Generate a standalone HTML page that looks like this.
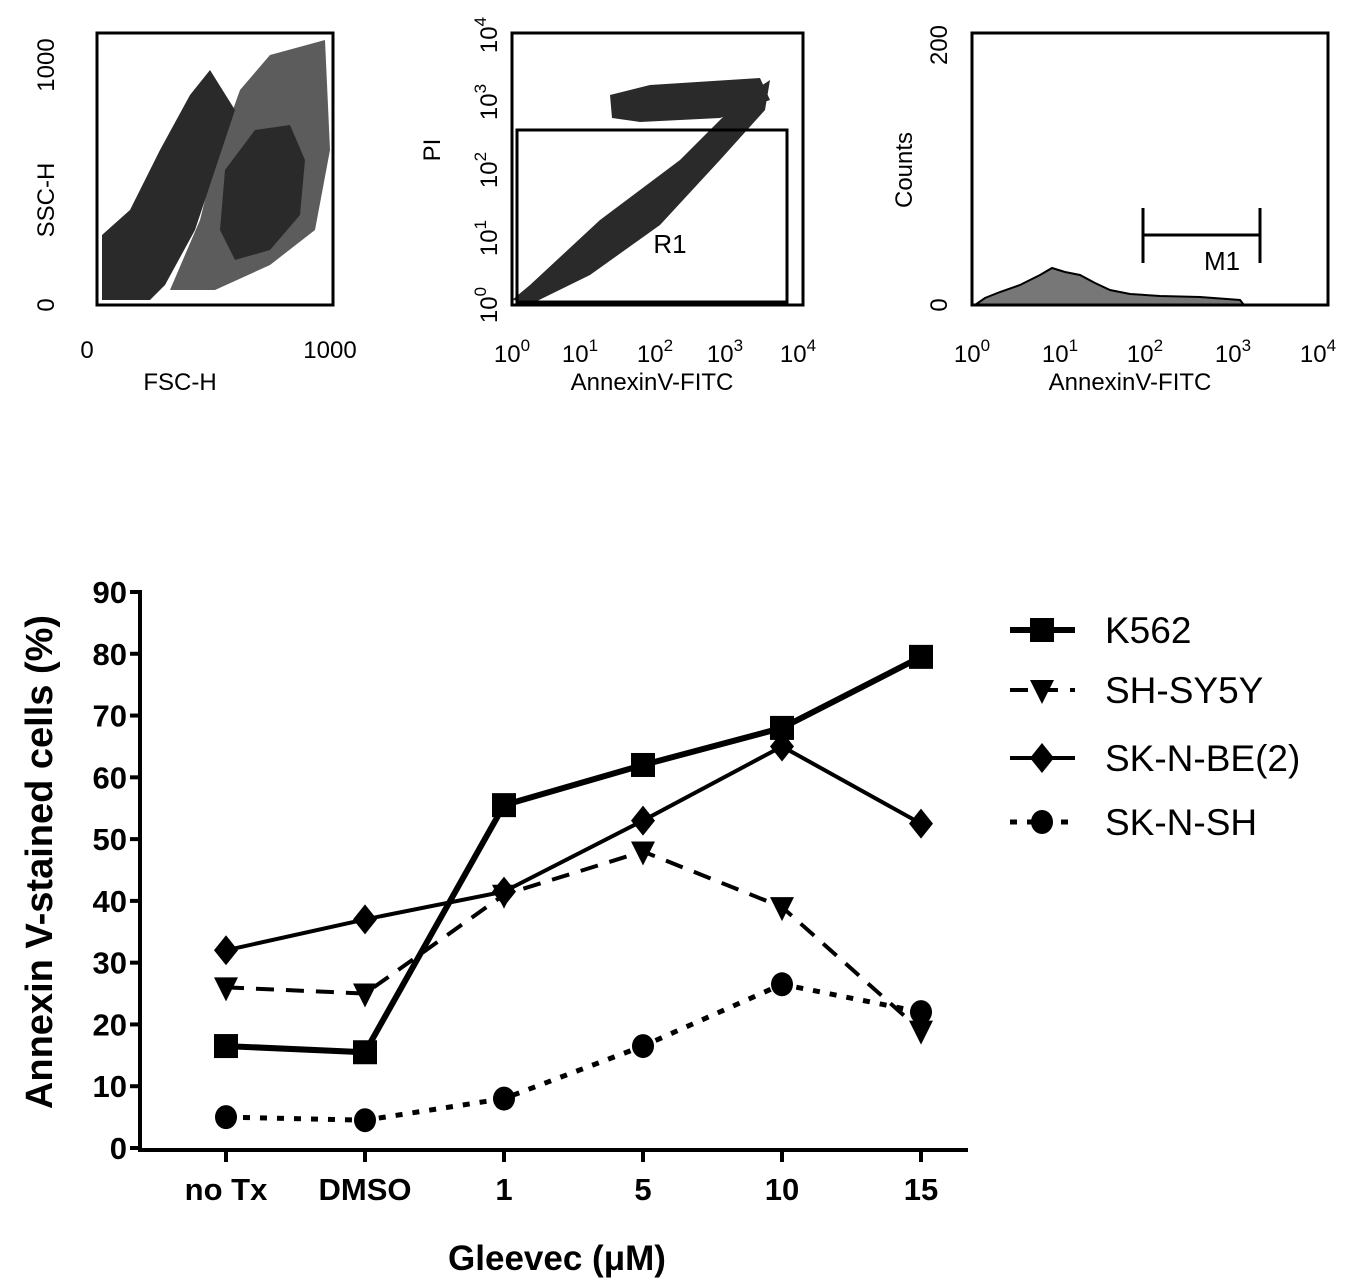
<!DOCTYPE html>
<html><head><meta charset="utf-8"><style>
body{margin:0;background:#fff;width:1350px;height:1283px;overflow:hidden;font-family:"Liberation Sans",sans-serif}
svg text{font-family:"Liberation Sans",sans-serif}
</style></head><body>
<svg width="1350" height="1283" viewBox="0 0 1350 1283">
<!-- Panel 1 -->
<g>
<polygon points="170,290 200,220 215,160 240,90 270,55 325,40 330,150 315,230 270,265 215,290" fill="#333" opacity="0.8"/>
<polygon points="102,300 102,235 130,210 160,150 190,95 210,70 235,110 215,170 195,230 165,285 150,300" fill="#2a2a2a"/>
<polygon points="220,230 225,170 255,130 290,125 305,160 300,215 270,250 235,260" fill="#2a2a2a"/>
<rect x="97" y="33" width="236" height="272" fill="none" stroke="#000" stroke-width="3"/>
<text x="330" y="358" font-size="24" text-anchor="middle">1000</text>
<text x="87" y="358" font-size="24" text-anchor="middle">0</text>
<text x="180" y="390" font-size="24" text-anchor="middle">FSC-H</text>
<text transform="translate(54,305) rotate(-90)" font-size="24" text-anchor="middle">0</text>
<text transform="translate(54,65) rotate(-90)" font-size="24" text-anchor="middle">1000</text>
<text transform="translate(54,200) rotate(-90)" font-size="24" text-anchor="middle">SSC-H</text>
</g>
<!-- Panel 2 -->
<g>
<polygon points="512,300 530,285 600,220 680,160 740,100 770,80 765,110 720,160 660,225 590,275 535,302" fill="#2a2a2a"/>
<polygon points="610,95 650,85 760,78 770,100 720,118 640,122 612,118" fill="#2a2a2a"/>
<rect x="512" y="33" width="291" height="272" fill="none" stroke="#000" stroke-width="3"/>
<rect x="517" y="130" width="270" height="172" fill="none" stroke="#000" stroke-width="3"/>
<text x="670" y="253" font-size="26" text-anchor="middle">R1</text>
<text x="512" y="362" font-size="24" text-anchor="middle">10<tspan dy="-11" font-size="17">0</tspan></text>
<text x="580" y="362" font-size="24" text-anchor="middle">10<tspan dy="-11" font-size="17">1</tspan></text>
<text x="655" y="362" font-size="24" text-anchor="middle">10<tspan dy="-11" font-size="17">2</tspan></text>
<text x="725" y="362" font-size="24" text-anchor="middle">10<tspan dy="-11" font-size="17">3</tspan></text>
<text x="798" y="362" font-size="24" text-anchor="middle">10<tspan dy="-11" font-size="17">4</tspan></text>
<text x="652" y="390" font-size="24" text-anchor="middle">AnnexinV-FITC</text>
<text transform="translate(497,305) rotate(-90)" font-size="24" text-anchor="middle">10<tspan dy="-11" font-size="17">0</tspan></text>
<text transform="translate(497,238) rotate(-90)" font-size="24" text-anchor="middle">10<tspan dy="-11" font-size="17">1</tspan></text>
<text transform="translate(497,170) rotate(-90)" font-size="24" text-anchor="middle">10<tspan dy="-11" font-size="17">2</tspan></text>
<text transform="translate(497,102) rotate(-90)" font-size="24" text-anchor="middle">10<tspan dy="-11" font-size="17">3</tspan></text>
<text transform="translate(497,35) rotate(-90)" font-size="24" text-anchor="middle">10<tspan dy="-11" font-size="17">4</tspan></text>
<text transform="translate(440,150) rotate(-90)" font-size="24" text-anchor="middle">PI</text>
</g>
<!-- Panel 3 -->
<g>
<polygon points="975,305 985,298 1000,292 1020,285 1040,275 1052,268 1065,272 1080,275 1095,283 1110,290 1130,294 1160,296 1200,297 1240,300 1244,305" fill="#777" stroke="#000" stroke-width="2"/>
<rect x="972" y="33" width="356" height="272" fill="none" stroke="#000" stroke-width="3"/>
<path d="M1143,235 H1260 M1143,208 V263 M1260,208 V263" stroke="#000" stroke-width="3" fill="none"/>
<text x="1222" y="270" font-size="26" text-anchor="middle">M1</text>
<text x="972" y="362" font-size="24" text-anchor="middle">10<tspan dy="-11" font-size="17">0</tspan></text>
<text x="1060" y="362" font-size="24" text-anchor="middle">10<tspan dy="-11" font-size="17">1</tspan></text>
<text x="1145" y="362" font-size="24" text-anchor="middle">10<tspan dy="-11" font-size="17">2</tspan></text>
<text x="1233" y="362" font-size="24" text-anchor="middle">10<tspan dy="-11" font-size="17">3</tspan></text>
<text x="1318" y="362" font-size="24" text-anchor="middle">10<tspan dy="-11" font-size="17">4</tspan></text>
<text x="1130" y="390" font-size="24" text-anchor="middle">AnnexinV-FITC</text>
<text transform="translate(947,305) rotate(-90)" font-size="24" text-anchor="middle">0</text>
<text transform="translate(947,45) rotate(-90)" font-size="24" text-anchor="middle">200</text>
<text transform="translate(912,170) rotate(-90)" font-size="24" text-anchor="middle">Counts</text>
</g>
<g id="chart"></g>
</svg>
<script>
const categories=["no Tx","DMSO","1","5","10","15"];
const yTicks=[0,10,20,30,40,50,60,70,80,90];
const k562=[16.5,15.5,55.5,62,68,79.5];
const shsy5y=[26,25,41,48,39,19];
const sknbe2=[32,37,41.5,53,65,52.5];
const sknsh=[5,4.5,8,16.5,26.5,22];
const seriesNames=["K562","SH-SY5Y","SK-N-BE(2)","SK-N-SH"];

const NS="http://www.w3.org/2000/svg";
const g=document.getElementById('chart');
const xPos=i=>226+i*139;
const yPos=v=>1148-v*(556/90);
function el(t,a,p){const e=document.createElementNS(NS,t);for(const k in a)e.setAttribute(k,a[k]);(p||g).appendChild(e);return e;}
let ax=el('path',{d:'M140,590 V1150 H968',stroke:'#000','stroke-width':4,fill:'none'});


yTicks.forEach(v=>{
 el('line',{x1:130,x2:140,y1:yPos(v),y2:yPos(v),stroke:'#000','stroke-width':4});
 const t=el('text',{x:127,y:yPos(v)+11,'font-size':31,'font-weight':'bold','text-anchor':'end'});t.textContent=v;
 
 
});
categories.forEach((c,i)=>{
 el('line',{x1:xPos(i),x2:xPos(i),y1:1150,y2:1162,stroke:'#000','stroke-width':4});
 const t=el('text',{x:xPos(i),y:1200,'font-size':31,'font-weight':'bold','text-anchor':'middle'});t.textContent=c;
 
 
});
let yt=el('text',{transform:'translate(52,862) rotate(-90)','font-size':38,'font-weight':'bold','text-anchor':'middle'});yt.textContent='Annexin V-stained cells (%)';


let xt=el('text',{x:557,y:1270,'font-size':35,'font-weight':'bold','text-anchor':'middle'});xt.textContent='Gleevec (μM)';



function marker(type,x,y,parent){
 if(type==='square')return el('rect',{x:x-12,y:y-12,width:24,height:24,fill:'#000'},parent);
 if(type==='tri')return el('polygon',{points:`${x-12},${y-10} ${x+12},${y-10} ${x},${y+14}`,fill:'#000'},parent);
 if(type==='diamond')return el('polygon',{points:`${x},${y-15} ${x+12},${y} ${x},${y+15} ${x-12},${y}`,fill:'#000'},parent);
 return el('ellipse',{cx:x,cy:y,rx:11,ry:12,fill:'#000'},parent);
}
const series=[
 {d:k562,m:'square',w:6,dash:'',name:'k562'},
 {d:shsy5y,m:'tri',w:4,dash:'18,12',name:'sh-sy5y'},
 {d:sknbe2,m:'diamond',w:4,dash:'',name:'sk-n-be2'},
 {d:sknsh,m:'circle',w:5,dash:'7,10',name:'sk-n-sh'}
];
series.forEach(s=>{
 const sg=el('g',{});
 
 
 el('polyline',{points:s.d.map((v,i)=>xPos(i)+','+yPos(v)).join(' '),fill:'none',stroke:'#000','stroke-width':s.w,'stroke-dasharray':s.dash},sg);
 s.d.forEach((v,i)=>{const m=marker(s.m,xPos(i),yPos(v),sg);
  
  });
});
const legY=[630,690,758,822];
series.forEach((s,i)=>{
 const lg=el('g',{});
 
 
 el('line',{x1:1010,x2:1075,y1:legY[i],y2:legY[i],stroke:'#000','stroke-width':s.w,'stroke-dasharray':s.dash},lg);
 marker(s.m,1042,legY[i],lg);
 const t=el('text',{x:1105,y:legY[i]+13,'font-size':37},lg);t.textContent=seriesNames[i];
});
</script>
</body></html>
